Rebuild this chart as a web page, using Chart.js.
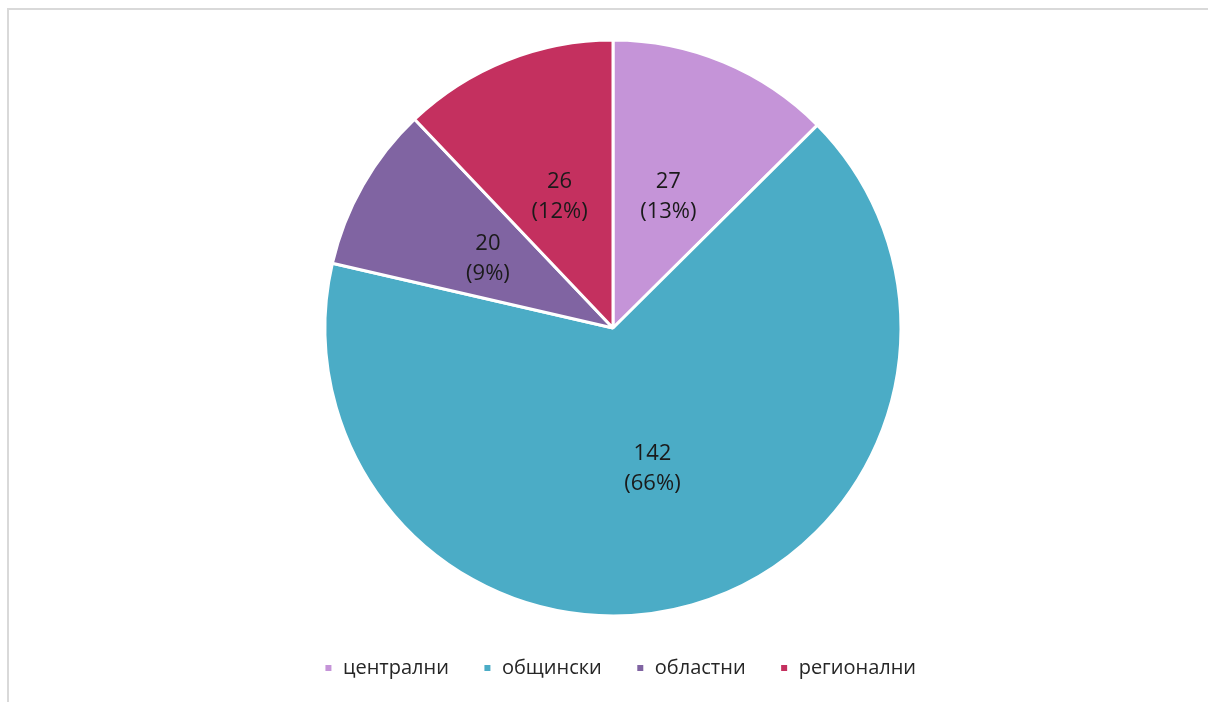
<!DOCTYPE html>
<html>
<head>
<meta charset="utf-8">
<script src="https://cdn.jsdelivr.net/npm/chart.js@4.4.1/dist/chart.umd.min.js"></script>
<style>
  html, body { margin: 0; padding: 0; background: #ffffff; }
  #wrap { position: absolute; left: 0; top: 0; width: 1208px; height: 702px; }
  #frame { position: absolute; left: 7px; top: 8px; width: 1300px; height: 800px;
           border-left: 2px solid #d9d9d9; border-top: 2px solid #d9d9d9; pointer-events: none; }
</style>
</head>
<body>
<div id="wrap"><canvas id="c"></canvas></div>
<div id="frame"></div>
<script>
const categories = ['централни', 'общински', 'областни', 'регионални'];
const values = [27, 142, 20, 26];
const colors = ['#c594d8', '#4bacc6', '#8064a2', '#c4305f'];

const dataLabels = {
  id: 'dataLabels',
  afterDatasetsDraw(chart) {
    const ctx = chart.ctx;
    const meta = chart.getDatasetMeta(0);
    const data = chart.data.datasets[0].data;
    const total = data.reduce((a, b) => a + b, 0);
    ctx.save();
    ctx.font = '22px "Open Sans"';
    ctx.fillStyle = '#1a1a1a';
    ctx.textAlign = 'center';
    ctx.textBaseline = 'middle';
    meta.data.forEach((arc, i) => {
      const p = arc.tooltipPosition();
      const pct = Math.round(data[i] / total * 100);
      ctx.fillText(String(data[i]), p.x, p.y - 13);
      ctx.fillText('(' + pct + '%)', p.x, p.y + 17);
    });
    ctx.restore();
  }
};

const legendShift = {
  id: 'legendShift',
  afterLayout(chart) {
    if (chart.legend) { chart.legend.left += 7; chart.legend.right += 7; }
  }
};

new Chart(document.getElementById('c'), {
  type: 'pie',
  data: {
    labels: categories,
    datasets: [{
      data: values,
      backgroundColor: colors,
      borderColor: '#ffffff',
      borderWidth: 3,
      radius: 288
    }]
  },
  options: {
    responsive: true,
    maintainAspectRatio: false,
    animation: false,
    layout: { padding: { top: 32, bottom: 14, left: 18, right: 0 } },
    plugins: {
      tooltip: { enabled: false },
      legend: {
        position: 'bottom',
        labels: {
          boxWidth: 9,
          boxHeight: 9,
          padding: 34,
          color: '#262626',
          font: { family: '"Open Sans"', size: 20 }
        }
      }
    }
  },
  plugins: [dataLabels, legendShift]
});
</script>
</body>
</html>
